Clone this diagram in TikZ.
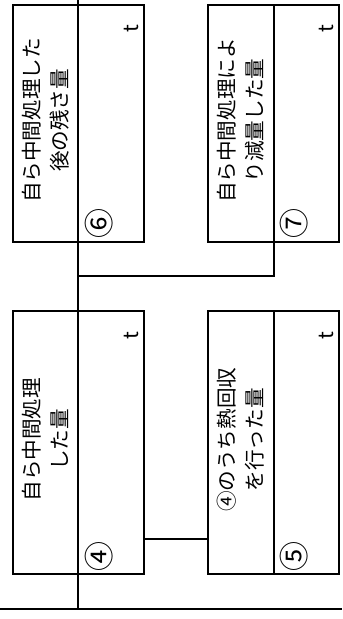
\documentclass[tikz,border=0pt]{standalone}
\usepackage{fontspec}
\newfontfamily\cjk{Noto Sans CJK JP}
\usetikzlibrary{positioning}

\tikzset{
	part/.style={draw, line width=1pt, outer sep=0pt, inner sep=0pt, minimum width=32.75pt},
	toprow/.style={part, minimum height=118.5pt},
	botrow/.style={part, minimum height=131.25pt},
	lbl/.style={yshift=1.5pt, rotate=90, align=center, inner sep=0pt},
	unit/.style={rotate=90, inner sep=0pt},
	num/.style={unit, font={\cjk\fontsize{15pt}{15pt}\selectfont}},
}

\begin{document}
\begin{tikzpicture}[x=0.5pt, y=-0.5pt, line width=1pt, font={\cjk\fontsize{10.3pt}{14pt}\selectfont}]
		\useasboundingbox (0,0) rectangle (342,619);
		% upper pair of boxes
		\node[toprow] (b6a) at (45.25,123.5) {};
		\node[toprow, right=0pt of b6a] (b6b) {};
		\node[toprow] (b7a) at (240.75,123.5) {};
		\node[toprow, right=0pt of b7a] (b7b) {};
		% lower pair of boxes
		\node[botrow] (b4a) at (45.25,442.75) {};
		\node[botrow, right=0pt of b4a] (b4b) {};
		\node[botrow] (b5a) at (240.75,442.75) {};
		\node[botrow, right=0pt of b5a] (b5b) {};
		% texts, turned on their side
		\node[lbl] (q6) at (b6a) {自ら中間処理した\\後の残さ量};
		\node[lbl] (q7) at (b7a) {自ら中間処理によ\\り減量した量};
		\node[lbl] (q4) at (b4a) {自ら中間処理\\した量};
		\node[lbl] (q5) at (b5a) {④のうち熱回収\\を行った量};
		\node[num] (n6) at ([xshift=10.5pt, yshift=9pt]b6b.south west) {⑥};
		\node[num] (n7) at ([xshift=10.5pt, yshift=9pt]b7b.south west) {⑦};
		\node[num] (n4) at ([xshift=10.5pt, yshift=9pt]b4b.south west) {④};
		\node[num] (n5) at ([xshift=10.5pt, yshift=9pt]b5b.south west) {⑤};
		\node[unit] (t6) at ([xshift=-6.25pt, yshift=-12pt]b6b.north east) {t};
		\node[unit] (t7) at ([xshift=-6.25pt, yshift=-12pt]b7b.north east) {t};
		\node[unit] (t4) at ([xshift=-6.25pt, yshift=-12pt]b4b.north east) {t};
		\node[unit] (t5) at ([xshift=-6.25pt, yshift=-12pt]b5b.north east) {t};
		% connecting lines
		\coordinate (top) at (78,0);
		\coordinate (tee) at (78,276);
		\coordinate (brg) at (0,539);
		\coordinate (bl) at (0,609);
		\coordinate (br) at (342,609);
		\draw (top) -- (top |- bl);
		\draw (bl) -- (br);
		\draw (b7a.south east) |- (tee);
		\draw (b4b.east |- brg) -- (b5a.west |- brg);
	\end{tikzpicture}
\end{document}
